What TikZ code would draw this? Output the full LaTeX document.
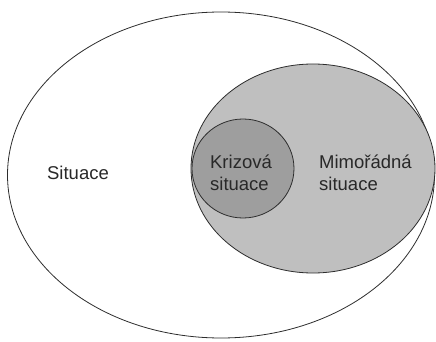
\documentclass[tikz,border=0pt]{standalone}
\usepackage{fontspec}
\setmainfont{Liberation Sans}
\usetikzlibrary{shapes.geometric}

\definecolor{mimofill}{RGB}{191,191,191}
\definecolor{krizfill}{RGB}{158,158,158}
\definecolor{obrys}{RGB}{45,45,45}
\definecolor{pismo}{RGB}{40,40,40}

\tikzset{mnozina/.style={ellipse,draw=obrys,line width=0.8pt,inner sep=0pt},
  popis/.style={text=pismo,font=\fontsize{18.5}{22}\selectfont,align=left,inner sep=0pt}}

\begin{document}
\begin{tikzpicture}[x=1pt,y=-1pt]
      \useasboundingbox (0,0) rectangle (436,342) ;
      % mnoziny
      \node[mnozina,fill=white,minimum width=427pt,minimum height=326pt] %
      (situace) at (221,175) {} ;
      \node[mnozina,fill=mimofill,minimum width=244pt,minimum height=209pt] %
      (mimoradna) at (313,168.5) {} ;
      \node[mnozina,fill=krizfill,minimum width=102pt,minimum height=99pt] %
      (krizova) at (243,168.5) {} ;
      % popisky
      \node[popis] (tsituace) at (78,173) {Situace} ;
      \node[popis] (tkrizova) at (241,173) {Krizová\\situace} ;
      \node[popis,anchor=west] (tmimoradna) at (319,173) {Mimořádná\\situace} ;
    \end{tikzpicture}
\end{document}
